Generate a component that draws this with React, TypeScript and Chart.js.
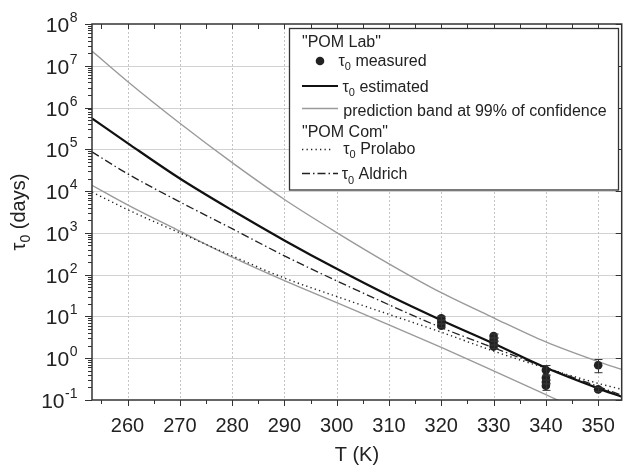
import React, { useEffect, useRef } from 'react';
import { Chart, registerables } from 'chart.js';

Chart.register(...registerables);

// ---------- data ----------
const CURVE_T = [253.2, 260, 270, 280, 290, 300, 310, 320, 330, 340, 350, 354.5];
const TAU_ESTIMATED = [5.5e5, 1.41e5, 2.0e4, 3.47e3, 660, 138, 31.6, 8.1, 2.24, 0.59, 0.19, 0.12];
const BAND_UPPER = [2.24e7, 4.2e6, 4.2e5, 4.8e4, 6.3e3, 1.02e3, 182, 37, 9.3, 2.45, 0.83, 0.54];
const BAND_LOWER = [1.38e4, 4.7e3, 1.1e3, 263, 72, 21.4, 6.3, 1.82, 0.5, 0.135, 0.035, 0.02];
const TAU_PROLABO = [9.5e3, 3.6e3, 1.0e3, 282, 83, 30, 11.2, 4.2, 1.48, 0.58, 0.25, 0.18];
const TAU_ALDRICH = [8.7e4, 2.6e4, 5.5e3, 1.26e3, 282, 71, 19, 5.4, 1.78, 0.6, 0.21, 0.13];

const MEAS_T = [320, 320, 320, 330, 330, 330, 330, 340, 340, 340, 340, 350, 350];
const MEAS_TAU = [9.0, 7.4, 6.0, 3.4, 2.8, 2.3, 1.9, 0.52, 0.34, 0.27, 0.22, 0.68, 0.18];
const MEAS_LOW = [8.0, 6.6, 5.4, 3.0, 2.5, 2.0, 1.7, 0.4, 0.3, 0.24, 0.17, 0.45, 0.16];
const MEAS_HIGH = [10, 8.2, 6.6, 3.8, 3.1, 2.6, 2.1, 0.67, 0.38, 0.3, 0.25, 0.93, 0.2];

const X_TICKS = [260, 270, 280, 290, 300, 310, 320, 330, 340, 350];
const X_MINOR = [255, 265, 275, 285, 295, 305, 315, 325, 335, 345];
const Y_EXPONENTS = [-1, 0, 1, 2, 3, 4, 5, 6, 7, 8];

const X_TITLE = 'T (K)';
const Y_TITLE_MAIN = 'τ';
const Y_TITLE_SUB = '0';
const Y_TITLE_REST = ' (days)';

const LEG_GROUP1 = '"POM Lab"';
const LEG_GROUP2 = '"POM Com"';
const LEG_MEASURED = ' measured';
const LEG_ESTIMATED = ' estimated';
const LEG_BAND = 'prediction band at 99% of confidence';
const LEG_PROLABO = ' Prolabo';
const LEG_ALDRICH = ' Aldrich';

const FONT = '"Liberation Sans", Arial, Helvetica, sans-serif';
const INK = '#222';
const AXIS = '#333';
const BAND_COLOR = '#9a9a9a';

const DASH_PROLABO = [1.3, 3.2];
const DASH_ALDRICH = [8, 3, 1.5, 3];

function pts(arr: number[]) {
  return CURVE_T.map((t, i) => ({ x: t, y: arr[i] }));
}

function drawTau(ctx: CanvasRenderingContext2D, x: number, y: number, size: number, rest: string) {
  ctx.font = `${size}px ${FONT}`;
  ctx.fillText('τ', x, y);
  x += ctx.measureText('τ').width;
  const sub = Math.round(size * 0.7);
  ctx.font = `${sub}px ${FONT}`;
  ctx.fillText('0', x, y + size * 0.28);
  x += ctx.measureText('0').width;
  ctx.font = `${size}px ${FONT}`;
  ctx.fillText(rest, x, y);
}

const decorPlugin = {
  id: 'decor',
  beforeDatasetsDraw(chart: any) {
    const { ctx, chartArea: a, scales } = chart;
    const x = scales.x, y = scales.y;
    ctx.save();
    ctx.lineWidth = 1;
    ctx.strokeStyle = '#d2d2d2';
    for (const e of Y_EXPONENTS) {
      const py = Math.round(y.getPixelForValue(Math.pow(10, e))) + 0.5;
      if (py <= a.top + 2 || py >= a.bottom - 2) continue;
      ctx.beginPath();
      ctx.moveTo(a.left, py);
      ctx.lineTo(a.right, py);
      ctx.stroke();
    }
    ctx.strokeStyle = '#c4c4c4';
    ctx.setLineDash([2, 2]);
    for (const t of X_TICKS) {
      const px = Math.round(x.getPixelForValue(t)) + 0.5;
      ctx.beginPath();
      ctx.moveTo(px, a.top);
      ctx.lineTo(px, a.bottom);
      ctx.stroke();
    }
    ctx.restore();
  },
  afterDatasetsDraw(chart: any) {
    const { ctx, chartArea: a, scales } = chart;
    const x = scales.x, y = scales.y;
    ctx.save();
    ctx.beginPath();
    ctx.rect(a.left, a.top, a.right - a.left, a.bottom - a.top);
    ctx.clip();
    ctx.strokeStyle = '#333';
    ctx.lineWidth = 1;
    MEAS_T.forEach((t, i) => {
      const px = Math.round(x.getPixelForValue(t)) + 0.5;
      const y1 = y.getPixelForValue(MEAS_LOW[i]);
      const y2 = y.getPixelForValue(MEAS_HIGH[i]);
      ctx.beginPath();
      ctx.moveTo(px, y1);
      ctx.lineTo(px, y2);
      ctx.moveTo(px - 4, y1);
      ctx.lineTo(px + 4, y1);
      ctx.moveTo(px - 4, y2);
      ctx.lineTo(px + 4, y2);
      ctx.stroke();
    });
    ctx.restore();
  },
  afterDraw(chart: any) {
    const { ctx, chartArea: a, scales } = chart;
    const x = scales.x, y = scales.y;
    ctx.save();
    ctx.strokeStyle = AXIS;
    ctx.lineWidth = 1;
    for (const e of Y_EXPONENTS) {
      const py = Math.round(y.getPixelForValue(Math.pow(10, e))) + 0.5;
      ctx.beginPath();
      ctx.moveTo(a.left - 7, py);
      ctx.lineTo(a.left, py);
      ctx.moveTo(a.right - 6, py);
      ctx.lineTo(a.right, py);
      ctx.stroke();
      if (e < 8) {
        for (let m = 2; m <= 9; m++) {
          const pm = Math.round(y.getPixelForValue(m * Math.pow(10, e))) + 0.5;
          ctx.beginPath();
          ctx.moveTo(a.left - 4, pm);
          ctx.lineTo(a.left, pm);
          ctx.stroke();
        }
      }
    }
    const allX = [...X_TICKS, ...X_MINOR];
    for (const t of allX) {
      const px = Math.round(x.getPixelForValue(t)) + 0.5;
      const major = X_TICKS.includes(t);
      ctx.beginPath();
      ctx.moveTo(px, a.bottom);
      ctx.lineTo(px, a.bottom + (major ? 6 : 4));
      ctx.moveTo(px, a.top);
      ctx.lineTo(px, a.top + 5);
      ctx.stroke();
    }
    ctx.lineWidth = 1.5;
    ctx.strokeRect(a.left, a.top, a.right - a.left, a.bottom - a.top);

    ctx.fillStyle = INK;
    ctx.font = `20px ${FONT}`;
    ctx.textAlign = 'center';
    ctx.textBaseline = 'alphabetic';
    for (const t of X_TICKS) {
      ctx.fillText(String(t), x.getPixelForValue(t), 432);
    }
    ctx.fillText(X_TITLE, (a.left + a.right) / 2, 461);

    ctx.textAlign = 'left';
    const rightEdge = 77.5;
    for (const e of Y_EXPONENTS) {
      const py = y.getPixelForValue(Math.pow(10, e));
      const exp = e < 0 ? '-' + Math.abs(e) : String(e);
      ctx.font = `14px ${FONT}`;
      const ew = ctx.measureText(exp).width;
      ctx.fillText(exp, rightEdge - ew, py - 2);
      ctx.font = `21px ${FONT}`;
      const bw = ctx.measureText('10').width;
      ctx.fillText('10', rightEdge - ew - bw - 0.5, py + 8);
    }

    ctx.save();
    ctx.translate(25, (a.top + a.bottom) / 2);
    ctx.rotate(-Math.PI / 2);
    ctx.font = `20px ${FONT}`;
    const w1 = ctx.measureText(Y_TITLE_MAIN).width;
    const w3 = ctx.measureText(Y_TITLE_REST).width;
    ctx.font = `14px ${FONT}`;
    const w2 = ctx.measureText(Y_TITLE_SUB).width;
    let tx = -(w1 + w2 + w3) / 2;
    ctx.font = `20px ${FONT}`;
    ctx.fillText(Y_TITLE_MAIN, tx, 0);
    tx += w1;
    ctx.font = `14px ${FONT}`;
    ctx.fillText(Y_TITLE_SUB, tx, 5);
    tx += w2;
    ctx.font = `20px ${FONT}`;
    ctx.fillText(Y_TITLE_REST, tx, 0);
    ctx.restore();

    const bx = 289.5, by = 28.5, bw2 = 329, bh = 161.5;
    ctx.fillStyle = '#fff';
    ctx.fillRect(bx, by, bw2, bh);
    ctx.strokeStyle = AXIS;
    ctx.lineWidth = 1.3;
    ctx.strokeRect(bx, by, bw2, bh);

    ctx.fillStyle = INK;
    ctx.textAlign = 'left';
    ctx.font = `16px ${FONT}`;
    ctx.fillText(LEG_GROUP1, 302, 46.5);
    ctx.beginPath();
    ctx.arc(320, 61, 4.3, 0, Math.PI * 2);
    ctx.fill();
    drawTau(ctx, 338.5, 66, 16, LEG_MEASURED);
    ctx.strokeStyle = '#111';
    ctx.lineWidth = 2;
    ctx.beginPath();
    ctx.moveTo(302, 86);
    ctx.lineTo(338, 86);
    ctx.stroke();
    drawTau(ctx, 342.5, 91.5, 16, LEG_ESTIMATED);
    ctx.strokeStyle = BAND_COLOR;
    ctx.lineWidth = 1.3;
    ctx.beginPath();
    ctx.moveTo(302, 108.5);
    ctx.lineTo(338, 108.5);
    ctx.stroke();
    ctx.font = `16px ${FONT}`;
    ctx.fillText(LEG_BAND, 343.3, 115.5);
    ctx.fillText(LEG_GROUP2, 302, 136.5);
    ctx.strokeStyle = '#222';
    ctx.lineWidth = 1.4;
    ctx.setLineDash(DASH_PROLABO);
    ctx.beginPath();
    ctx.moveTo(302, 149.5);
    ctx.lineTo(332, 149.5);
    ctx.stroke();
    drawTau(ctx, 343.3, 154, 16, LEG_PROLABO);
    ctx.setLineDash(DASH_ALDRICH);
    ctx.lineWidth = 1.3;
    ctx.beginPath();
    ctx.moveTo(302, 173.5);
    ctx.lineTo(338, 173.5);
    ctx.stroke();
    ctx.setLineDash([]);
    drawTau(ctx, 341.7, 179.3, 16, LEG_ALDRICH);

    ctx.restore();
  },
};

export default function App() {
  const ref = useRef<HTMLCanvasElement | null>(null);

  useEffect(() => {
    document.body.style.margin = '0';
    const canvas = ref.current;
    if (!canvas) return;
    const lineBase = {
      pointRadius: 0,
      pointHoverRadius: 0,
      fill: false,
      cubicInterpolationMode: 'monotone' as const,
    };
    const chart = new Chart(canvas, {
      type: 'line',
      data: {
        datasets: [
          {
            label: 'τ0 measured',
            data: MEAS_T.map((t, i) => ({ x: t, y: MEAS_TAU[i] })),
            showLine: false,
            pointRadius: 4.3,
            pointBackgroundColor: '#222',
            pointBorderColor: '#222',
            pointBorderWidth: 0,
            borderColor: '#222',
            order: 0,
          },
          {
            ...lineBase,
            label: 'τ0 estimated',
            data: pts(TAU_ESTIMATED),
            borderColor: '#111',
            borderWidth: 2.2,
            order: 1,
          },
          {
            ...lineBase,
            label: 'τ0 Aldrich',
            data: pts(TAU_ALDRICH),
            borderColor: '#222',
            borderWidth: 1.3,
            borderDash: DASH_ALDRICH,
            order: 2,
          },
          {
            ...lineBase,
            label: 'τ0 Prolabo',
            data: pts(TAU_PROLABO),
            borderColor: '#222',
            borderWidth: 1.4,
            borderDash: DASH_PROLABO,
            order: 3,
          },
          {
            ...lineBase,
            label: 'prediction band (upper)',
            data: pts(BAND_UPPER),
            borderColor: BAND_COLOR,
            borderWidth: 1.4,
            order: 4,
          },
          {
            ...lineBase,
            label: 'prediction band (lower)',
            data: pts(BAND_LOWER),
            borderColor: BAND_COLOR,
            borderWidth: 1.4,
            order: 5,
          },
        ],
      },
      options: {
        animation: false,
        responsive: false,
        devicePixelRatio: 1,
        layout: { padding: { left: 92, top: 24, right: 1, bottom: 65 } },
        plugins: {
          legend: { display: false },
          tooltip: { enabled: false },
        },
        scales: {
          x: { type: 'linear', min: 253.2, max: 354.5, display: false },
          y: { type: 'logarithmic', min: 0.1, max: 1e8, display: false },
        },
      },
      plugins: [decorPlugin],
    });
    return () => chart.destroy();
  }, []);

  return <canvas ref={ref} width={626} height={465} style={{ display: 'block' }} />;
}
